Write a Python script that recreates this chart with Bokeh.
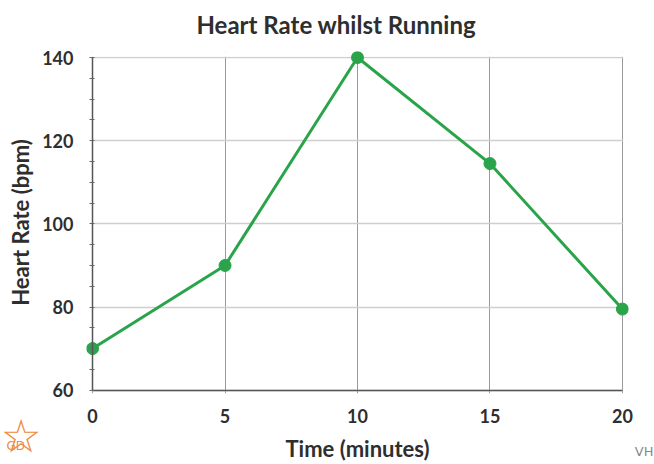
from bokeh.plotting import figure
from bokeh.embed import file_html
from bokeh.resources import INLINE
from bokeh.models import FixedTicker, Range1d, Title, LinearAxis

# Data
time_min = [0, 5, 10, 15, 20]
heart_rate = [70, 90, 140, 114.5, 79.5]
x_ticks = [0, 5, 10, 15, 20]
y_ticks = [60, 80, 100, 120, 140]
y_minor = [65, 70, 75, 85, 90, 95, 105, 110, 115, 125, 130, 135]

FONT = "Lato"
GREEN = "#2aa44a"
TXT = "#2e2e2e"
AXC = "#555555"

# small padding so the end markers are not clipped by the frame
XPAD = 0.23
YPAD = 1.45
YPAD_LO = 0.8
x0, x1 = x_ticks[0], x_ticks[-1]
y0, y1 = y_ticks[0], y_ticks[-1]

p = figure(width=654, height=464, output_backend="svg", toolbar_location=None,
           x_range=Range1d(x0 - XPAD, x1 + XPAD), y_range=Range1d(y0 - YPAD_LO, y1 + YPAD),
           min_border_left=86, min_border_right=26, min_border_top=51, min_border_bottom=71)
p.outline_line_color = None
p.background_fill_color = "white"
p.border_fill_color = "white"

t = Title(text="Heart Rate whilst Running", align="left", offset=110, vertical_align="top",
          text_font=FONT, text_font_size="24px", text_font_style="bold", text_color=TXT,
          standoff=-84)
p.add_layout(t, "above")

# white masks hiding the grid outside the 0-20 / 60-140 area
mask = dict(fill_color="white", line_color=None)
p.quad(left=[x0 - XPAD], right=[x1 + XPAD], bottom=[y1 + 0.2], top=[y1 + YPAD], **mask)
p.quad(left=[x0 - XPAD], right=[x0 - 0.03], bottom=[y0 - YPAD_LO], top=[y1 + YPAD], **mask)
p.quad(left=[x1 + 0.03], right=[x1 + XPAD], bottom=[y0 - YPAD_LO], top=[y1 + YPAD], **mask)

p.line(time_min, heart_rate, line_color=GREEN, line_width=3)
p.scatter(time_min, heart_rate, size=12, fill_color=GREEN, line_color=GREEN)

# x axis (labels only, at the frame edge)
xa = p.xaxis[0]
xa.ticker = FixedTicker(ticks=x_ticks)
xa.axis_line_color = None
xa.major_tick_line_color = None
xa.minor_tick_line_color = None
xa.major_tick_out = 0
xa.major_tick_in = 0
xa.minor_tick_out = 0
xa.minor_tick_in = 0
xa.major_label_standoff = 15
xa.axis_label = "Time (minutes)"
xa.axis_label_standoff = 9

# y axis (labels only, at the frame edge)
ya = p.yaxis[0]
ya.ticker = FixedTicker(ticks=y_ticks)
ya.axis_line_color = None
ya.major_tick_line_color = None
ya.minor_tick_line_color = None
ya.major_tick_out = 0
ya.major_tick_in = 0
ya.minor_tick_out = 0
ya.minor_tick_in = 0
ya.major_label_standoff = 13
ya.axis_label = "Heart Rate (bpm)"
ya.axis_label_standoff = 5

for ax in (xa, ya):
    ax.major_label_text_font = FONT
    ax.major_label_text_font_size = "18px"
    ax.major_label_text_font_style = "bold"
    ax.major_label_text_color = TXT
    ax.axis_label_text_font = FONT
    ax.axis_label_text_font_size = "22px"
    ax.axis_label_text_font_style = "bold"
    ax.axis_label_text_color = TXT

# axis lines and ticks, placed at x = 0 and y = 60
yl = LinearAxis(fixed_location=x0, bounds=(y0, y1),
                ticker=FixedTicker(ticks=[], minor_ticks=y_ticks + y_minor),
                axis_line_color=AXC, axis_line_width=1.5,
                major_tick_line_color=None, major_tick_out=0, major_tick_in=0,
                minor_tick_line_color="#666666", minor_tick_in=2, minor_tick_out=3,
                major_label_standoff=0)
p.add_layout(yl, "left")
xl = LinearAxis(fixed_location=y0, bounds=(x0, x1),
                ticker=FixedTicker(ticks=[], minor_ticks=[]),
                axis_line_color=AXC, axis_line_width=1.5,
                major_tick_line_color=None, major_tick_out=0, major_tick_in=0,
                minor_tick_line_color=None, minor_tick_in=0, minor_tick_out=0,
                major_label_standoff=0)

p.xgrid.ticker = FixedTicker(ticks=x_ticks)
p.xgrid.grid_line_color = "#9a9a9a"
p.xgrid.grid_line_width = 1
p.ygrid.ticker = FixedTicker(ticks=y_ticks)
p.ygrid.grid_line_color = "#cfcfcf"
p.ygrid.grid_line_width = 1.5

# Stamp / initials seen on the scanned page
t_vh = Title(text="VH", align="right", offset=-25, vertical_align="top", standoff=-41,
             text_font="DejaVu Sans", text_font_size="13px", text_font_style="normal",
             text_color="#888888")
p.add_layout(t_vh, "below")
t_star = Title(text="☆", align="left", offset=-86, vertical_align="top", standoff=-111,
               text_font="DejaVu Sans", text_font_size="46px", text_font_style="normal",
               text_color="#f08a3c")
p.add_layout(t_star, "below")
t_gd = Title(text="GD", align="left", offset=-80, vertical_align="top", standoff=-51,
             text_font="DejaVu Sans", text_font_size="12px", text_font_style="normal",
             text_color="#f08a3c")
p.add_layout(t_gd, "below")
p.add_layout(xl, "below")

open("out.html", "w").write(file_html(p, INLINE))
